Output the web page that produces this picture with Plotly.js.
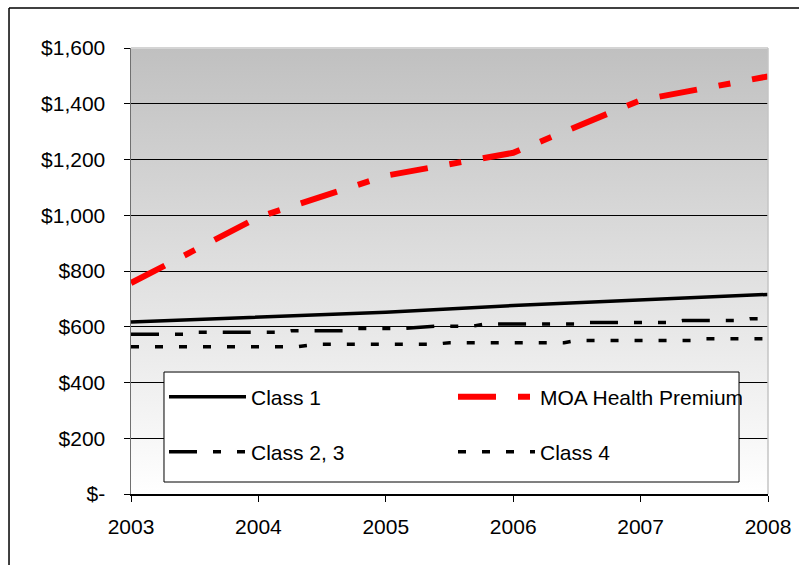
<!DOCTYPE html>
<html>
<head>
<meta charset="utf-8">
<script src="https://cdn.plot.ly/plotly-3.0.1.min.js"></script>
<style>
  html, body { margin: 0; padding: 0; background: #ffffff; }
  #chart { width: 799px; height: 565px; }
</style>
</head>
<body>
<div id="chart"></div>
<script>
// ---- data ----
var years = [2003, 2004, 2005, 2006, 2007, 2008];
var yearLabels = ['2003', '2004', '2005', '2006', '2007', '2008'];

var class1Values = [617, 635, 652, 676, 695, 716];
var moaValues = [757, 993, 1142, 1224, 1413, 1498];

var class23X = [2003, 2003.42, 2003.48, 2004.2, 2004.26, 2004.7, 2004.78, 2005.15, 2005.4, 2005.68, 2005.78, 2006.5, 2006.6, 2007.25, 2007.33, 2007.78, 2007.86, 2008];
var class23Values = [573, 573, 580, 580, 586, 586, 594, 594, 602, 602, 610, 610, 615, 615, 622, 622, 629, 629];

var class4X = [2003, 2004.3, 2004.45, 2005.38, 2005.5, 2006.4, 2006.5, 2007.4, 2007.5, 2008];
var class4Values = [528, 528, 537, 537, 543, 543, 551, 551, 557, 557];

var yTickVals = [0, 200, 400, 600, 800, 1000, 1200, 1400, 1600];
var yTickText = ['$-', '$200', '$400', '$600', '$800', '$1,000', '$1,200', '$1,400', '$1,600'];

var FONT = 'Liberation Sans, Arial, sans-serif';

var traces = [
  { name: 'Class 1', x: years, y: class1Values, type: 'scatter', mode: 'lines',
    line: { color: '#000000', width: 3.5 }, legend: 'legend' },
  { name: 'MOA Health Premium', x: years, y: moaValues, type: 'scatter', mode: 'lines',
    line: { color: '#ff0000', width: 6, dash: '38px,22px,12px,22px' }, legend: 'legend' },
  { name: 'Class 2, 3', x: class23X, y: class23Values, type: 'scatter', mode: 'lines',
    line: { color: '#000000', width: 3.5, dash: '28px,16px,8px,16px,8px,16px' }, legend: 'legend2' },
  { name: 'Class 4', x: class4X, y: class4Values, type: 'scatter', mode: 'lines',
    line: { color: '#000000', width: 3.5, dash: '8px,16px' }, legend: 'legend2' }
];

var gradSvg = "<svg xmlns='http://www.w3.org/2000/svg' width='10' height='100' viewBox='0 0 10 100' preserveAspectRatio='none'>" +
  "<defs><linearGradient id='g' x1='0' y1='0' x2='0' y2='1'>" +
  "<stop offset='0' stop-color='#c0c0c0'/><stop offset='1' stop-color='#ffffff'/>" +
  "</linearGradient></defs><rect x='0' y='0' width='10' height='100' fill='url(#g)'/></svg>";
var gradSrc = 'data:image/svg+xml;charset=utf-8,' + encodeURIComponent(gradSvg);

var legendCommon = {
  orientation: 'h', xanchor: 'left', yanchor: 'middle',
  bgcolor: 'rgba(0,0,0,0)', borderwidth: 0,
  font: { family: FONT, size: 21, color: '#000000' },
  itemwidth: 77, entrywidth: 197, entrywidthmode: 'pixels',
  itemclick: false, itemdoubleclick: false
};

var layout = {
  width: 799, height: 565, autosize: false,
  margin: { l: 131, r: 31, t: 48, b: 71, pad: 0 },
  paper_bgcolor: '#ffffff',
  plot_bgcolor: 'rgba(0,0,0,0)',
  font: { family: FONT, size: 21, color: '#000000' },
  showlegend: true,
  legend: Object.assign({}, legendCommon, { x: 0.0518, y: 0.2175 }),
  legend2: Object.assign({}, legendCommon, { x: 0.0518, y: 0.0942 }),
  xaxis: {
    range: [2003, 2008], tickmode: 'array', tickvals: years, ticktext: yearLabels,
    showgrid: false, zeroline: false,
    showline: true, linecolor: '#000000', linewidth: 1.5,
    ticks: 'outside', ticklen: 6, tickcolor: '#000000', tickwidth: 1,
    ticklabelstandoff: 7,
    tickfont: { family: FONT, size: 21, color: '#000000' }
  },
  yaxis: {
    range: [0, 1600], tickmode: 'array', tickvals: yTickVals, ticktext: yTickText,
    showgrid: true, gridcolor: '#000000', gridwidth: 1, zeroline: false,
    showline: true, linecolor: '#707070', linewidth: 1.5,
    ticks: 'outside', ticklen: 6, tickcolor: '#000000', tickwidth: 1,
    ticklabelstandoff: 14,
    tickfont: { family: FONT, size: 21, color: '#000000' }
  },
  images: [{
    source: gradSrc, xref: 'paper', yref: 'paper', x: 0, y: 1, sizex: 1, sizey: 1,
    xanchor: 'left', yanchor: 'top', sizing: 'stretch', layer: 'below'
  }],
  shapes: [
    // top edge of plot area (covers top gridline)
    { type: 'line', xref: 'paper', yref: 'paper', x0: 0, x1: 1, y0: 1, y1: 1,
      line: { color: '#d4d4d4', width: 2 }, layer: 'above' },
    // right edge of plot area
    { type: 'line', xref: 'paper', yref: 'paper', x0: 1, x1: 1, y0: 0, y1: 1,
      line: { color: '#c4c4c4', width: 1.5 }, layer: 'above' },
    // legend box
    { type: 'rect', xref: 'paper', yref: 'paper', x0: 0.0518, x1: 0.9545, y0: 0.0269, y1: 0.2735,
      fillcolor: '#ffffff', line: { color: '#000000', width: 1 }, layer: 'above' },
    // outer chart border (top and left)
    { type: 'line', xref: 'paper', yref: 'paper', x0: -0.1915, x1: 1.06, y0: 1.0897, y1: 1.0897,
      line: { color: '#000000', width: 1.5 }, layer: 'above' },
    { type: 'line', xref: 'paper', yref: 'paper', x0: -0.1915, x1: -0.1915, y0: -0.17, y1: 1.0897,
      line: { color: '#000000', width: 1.5 }, layer: 'above' }
  ]
};

Plotly.newPlot('chart', traces, layout, { staticPlot: true, displayModeBar: false });
</script>
</body>
</html>
